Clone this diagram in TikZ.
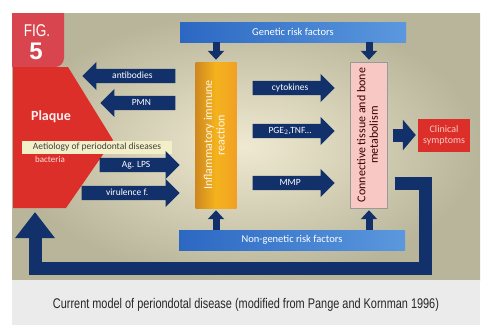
\documentclass[tikz,border=0pt]{standalone}
\usepackage{fontspec}
\setmainfont{Carlito}
\newfontfamily\capfont{Liberation Sans}
\usepackage{graphicx}
\definecolor{pdnavy}{HTML}{12306A}
\definecolor{pdred}{HTML}{DC2F2A}
\definecolor{pdfig}{HTML}{D8454E}
\definecolor{pdorange}{HTML}{F2A024}
\definecolor{pdpink}{HTML}{F8C8C4}
\definecolor{pdblue}{HTML}{2C68C2}
\definecolor{pdsky}{HTML}{5B98DE}
\definecolor{pdcream}{HTML}{F3EFC9}
\definecolor{pdbg}{HTML}{EEE9D0}
\definecolor{pdbgdark}{HTML}{B9B59A}
\definecolor{pdgrey}{HTML}{EBEBEB}
\usetikzlibrary{arrows.meta,shapes.arrows}

\begin{document}
\begin{tikzpicture}[x=1pt,y=-1pt,
  larr/.style={single arrow,shape border rotate=180,fill=pdnavy,text=white,
    font=\fontsize{9.5}{10}\selectfont,text height=6.5pt,text depth=1.5pt,inner ysep=3pt,
    single arrow head extend=7pt,single arrow tip angle=90,anchor=tip},
  rarr/.style={larr,shape border rotate=0},
  bar/.style={left color=pdblue,right color=pdsky,text=white,minimum width=226pt,
    minimum height=20pt,font=\fontsize{10.5}{11}\selectfont},
  stub/.style={line width=7pt,pdnavy,-{Triangle[width=16pt,length=9pt]},shorten >=2pt},
  back/.style={line width=13pt,pdnavy,-{Triangle[width=38pt,length=26pt]}},
  tall/.style={minimum height=146pt,inner sep=1pt,font=\fontsize{12}{12.5}\selectfont}]
  \useasboundingbox (0,0) rectangle (483,325);
  % photo and caption band
  \shade[inner color=pdbg,outer color=pdbgdark] (12,13) rectangle (480,280);
  \fill[pdgrey] (12,280) rectangle (480,325);
  \node[font=\capfont\fontsize{14}{16}\selectfont,text=black!85] (cap) at (246,305)
    {\scalebox{0.78}[1]{Current model of periondotal disease (modified from Pange and Kornman 1996)}};
  % figure tag and plaque
  \fill[pdfig] (12,13) -- (64,13) [rounded corners=9pt] -- (64,67) [sharp corners] -- (12,67) -- cycle;
  \node[text=white,font=\capfont\fontsize{17}{18}\selectfont] (fig) at (37,31) {\scalebox{0.8}[1]{FIG.}};
  \node[text=white,font=\capfont\bfseries\fontsize{24}{24}\selectfont] (num) at (36,51) {5};
  \fill[pdred] (13,67) -- (68,67) -- (113,140) -- (66,208) -- (13,208) -- cycle;
  \node[text=white!92!pdred,font=\bfseries\fontsize{14}{14}\selectfont] (plaque) at (51,117) {Plaque};
  \node[fill=pdcream,text=black!75,font=\fontsize{9.5}{10}\selectfont,minimum width=150pt,
    minimum height=13pt,inner sep=0pt] (aet) at (97,147) {Aetiology of periodontal diseases};
  \node[text=white!85!pdred,font=\fontsize{9}{9}\selectfont] (bact) at (50,159) {bacteria};
  % main blocks
  \node[bar] (gen) at (293,32) {Genetic risk factors};
  \node[bar] (ngen) at (292,240) {Non-genetic risk factors};
  \node[tall,left color=pdorange!85!black,right color=pdorange,middle color=pdorange!80!yellow,
    text=white!90!pdorange,minimum width=41pt] (infl) at (216,135)
    {\rotatebox{90}{\begin{tabular}{@{}c@{}}Inflammatory immune\\reaction\end{tabular}}};
  \node[tall,fill=pdpink,draw=black!40,text=black!75!red,minimum width=37pt] (meta) at (369,135)
    {\rotatebox{90}{\begin{tabular}{@{}c@{}}Connective tissue and bone\\metabolism\end{tabular}}};
  \node[fill=pdred,text=pdpink,minimum width=52pt,minimum height=33pt,inner sep=1pt,
    align=center,font=\fontsize{10}{11}\selectfont] (clin) at (444,135) {Clinical\\symptoms};
  % block arrows
  \node[larr,minimum height=93pt] (anti) at (82,76) {antibodies};
  \node[larr,minimum height=75pt] (pmn) at (100,103) {PMN};
  \node[rarr,minimum height=80pt] (lps) at (180,165) {Ag. LPS};
  \node[rarr,minimum height=98pt] (vir) at (180,193) {virulence f.};
  \node[rarr,minimum height=82pt] (cyto) at (335,88) {cytokines};
  \node[rarr,minimum height=82pt] (pge) at (335,131) {PGE$_2$,TNF...};
  \node[rarr,minimum height=82pt] (mmp) at (335,183) {MMP};
  % connectors
  \draw[stub] (gen.south -| infl) -- (infl.north);
  \draw[stub] (gen.south -| meta) -- (meta.north);
  \draw[stub] (ngen.north -| infl) -- (infl.south);
  \draw[stub] (ngen.north -| meta) -- (meta.south);
  \draw[line width=13pt,pdnavy,-{Triangle[width=30pt,length=13pt]},shorten <=5pt,shorten >=2pt]
    (meta.east |- clin) -- (clin.west);
  \coordinate (turn) at (425,268);
  \coordinate (tipend) at (35,212);
  \draw[back,shorten <=7pt] (meta.east |- mmp) -| (turn) -| (tipend);
\end{tikzpicture}
\end{document}
